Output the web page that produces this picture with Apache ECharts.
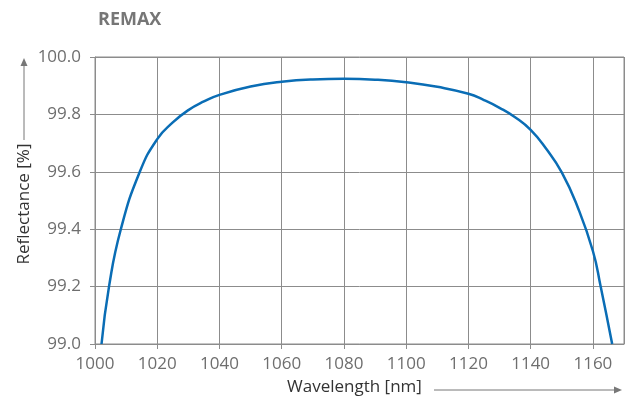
<!DOCTYPE html>
<html>
<head>
<meta charset="utf-8">
<script src="https://cdn.jsdelivr.net/npm/echarts@6/dist/echarts.min.js"></script>
<style>html,body{margin:0;padding:0;background:#fff}#c{width:631px;height:401px}</style>
</head>
<body>
<div id="c"></div>
<script>
const wavelengths = [1002.1, 1004.5, 1008.3, 1014.4, 1020, 1025, 1030, 1035, 1040, 1050, 1060, 1070, 1080, 1090, 1100, 1110, 1120, 1125, 1130, 1135, 1140, 1145, 1150, 1155, 1160, 1162.5, 1166.2];
const reflectance = [99.0, 99.2, 99.4, 99.6, 99.714, 99.772, 99.815, 99.845, 99.868, 99.897, 99.914, 99.922, 99.924, 99.921, 99.912, 99.896, 99.872, 99.85, 99.823, 99.79, 99.746, 99.68, 99.598, 99.48, 99.324, 99.2, 99.0];
const titleText = 'REMAX';
const xName = 'Wavelength [nm]';
const yName = 'Reflectance [%]';

const chart = echarts.init(document.getElementById('c'), null, {renderer: 'canvas'});
const font = '"Open Sans", "Noto Sans", sans-serif';
const gray = '#8c8c8c';
const txt = '#6e6e6e';
chart.setOption({
  animation: false,
  title: {text: titleText, left: 93, top: 6, textStyle: {fontFamily: font, fontSize: 18, fontWeight: 'bold', color: '#767676'}},
  grid: {left: 95, right: 7, top: 57, bottom: 57, show: true, borderColor: gray, borderWidth: 1},
  xAxis: {
    type: 'value', min: 1000, max: 1170, interval: 20,
    axisLine: {show: true, lineStyle: {color: gray}},
    axisTick: {show: true, length: 5, lineStyle: {color: gray}},
    splitLine: {show: true, lineStyle: {color: gray, width: 1}},
    axisLabel: {showMaxLabel: false, color: txt, fontFamily: font, fontSize: 17, margin: 12, formatter: v => String(v)}
  },
  yAxis: {
    type: 'value', min: 99, max: 100, interval: 0.2,
    axisLine: {show: true, lineStyle: {color: gray}},
    axisTick: {show: true, length: 5, lineStyle: {color: gray}},
    splitLine: {show: true, lineStyle: {color: gray, width: 1}},
    axisLabel: {color: txt, fontFamily: font, fontSize: 17, margin: 14, formatter: v => v.toFixed(1)}
  },
  graphic: [
    {type: 'text', left: 287, top: 379, style: {text: xName, fill: '#333', font: '17px ' + font}},
    {type: 'line', shape: {x1: 434, y1: 390, x2: 616, y2: 390}, style: {stroke: '#777', lineWidth: 1}},
    {type: 'polygon', shape: {points: [[622, 390], [614, 386.5], [614, 393.5]]}, style: {fill: '#777'}},
    {type: 'text', x: 24, y: 204, rotation: Math.PI / 2, style: {text: yName, fill: '#333', font: '17px ' + font, align: 'center', verticalAlign: 'middle'}},
    {type: 'line', shape: {x1: 24, y1: 140, x2: 24, y2: 65}, style: {stroke: '#777', lineWidth: 1}},
    {type: 'polygon', shape: {points: [[24, 58], [20.5, 66], [27.5, 66]]}, style: {fill: '#777'}}
  ],
  series: [{
    type: 'line', data: wavelengths.map((w, i) => [w, reflectance[i]]),
    smooth: 0.5, showSymbol: false, clip: true,
    lineStyle: {color: '#0a6db5', width: 2.5}
  }]
});
</script>
</body>
</html>
